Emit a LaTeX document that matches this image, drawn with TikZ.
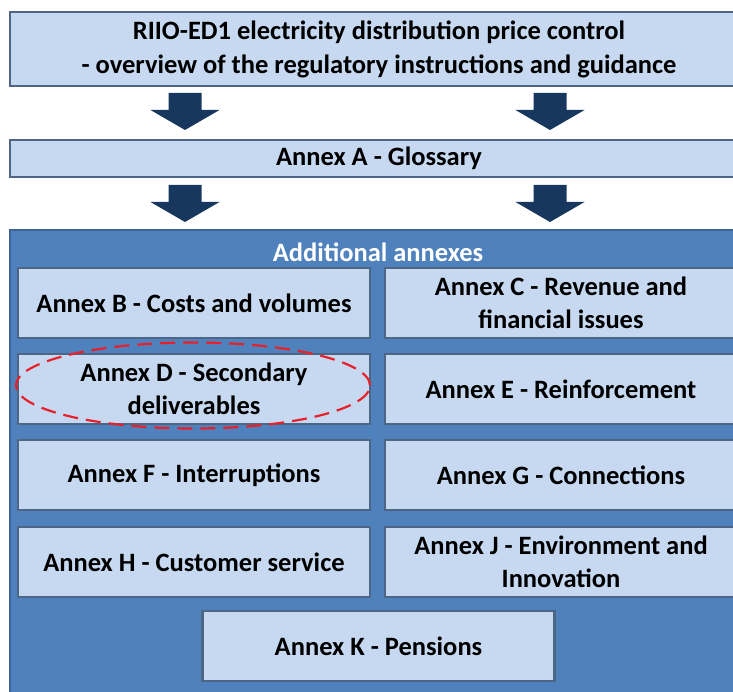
\documentclass[tikz,border=0pt]{standalone}
\usepackage{fontspec}
\setmainfont{Carlito}
\usetikzlibrary{shapes.geometric}
\definecolor{lightfill}{HTML}{C6D9F1}
\definecolor{lightborder}{HTML}{4D6686}
\definecolor{darkfill}{HTML}{4F81BD}
\definecolor{darkborder}{HTML}{3C6496}
\definecolor{arrowcol}{HTML}{17375E}
\definecolor{ringred}{HTML}{E8202A}
\tikzset{
  lightbox/.style={draw=lightborder, fill=lightfill, line width=2.5pt, align=center,
    font=\fontsize{26.5}{33}\selectfont\bfseries, inner sep=0pt},
  sidebox/.style={lightbox, minimum width=352pt, minimum height=70pt},
  blockarrowfill/.style={fill=arrowcol},
  ring/.style={draw=ringred, ellipse, line width=2.2pt, dash pattern=on 15pt off 8pt, minimum width=354pt, minimum height=86pt, inner sep=0pt}
}
\newcommand\blockarrow[2]{%
  \fill[blockarrowfill] ({#1-16.5},{#2}) -- ({#1+16.5},{#2}) -- ({#1+16.5},{#2+17}) -- ({#1+34.5},{#2+17}) -- ({#1},{#2+37}) -- ({#1-34.5},{#2+17}) -- ({#1-16.5},{#2+17}) -- cycle;}
\begin{document}
\begin{tikzpicture}[x=1pt,y=-1pt]
\useasboundingbox (0,0) rectangle (733,692);
\clip (0,0) rectangle (733,692);
\node[lightbox, minimum width=738pt, minimum height=74pt] (top) at (379,49)
  {RIIO-ED1 electricity distribution price control\\[1pt]- overview of the regulatory instructions and guidance};
\blockarrow{185}{93}
\blockarrow{550}{93}
\node[lightbox, minimum width=738pt, minimum height=37pt] (glossary) at (379,158.5) {Annex A - Glossary};
\blockarrow{185}{185}
\blockarrow{550}{185}
\node[draw=darkborder, fill=darkfill, line width=2pt, minimum width=738pt, minimum height=470pt, inner sep=0pt] (annexes) at (379,465) {};
\node[font=\fontsize{26.5}{30}\selectfont\bfseries, text=white] (addtitle) at (378,252) {Additional annexes};
\node[sidebox] (B) at (194,303) {Annex B - Costs and volumes};
\node[sidebox] (C) at (561,303) {Annex C - Revenue and\\financial issues};
\node[sidebox] (D) at (194,389) {Annex D - Secondary\\deliverables};
\node[sidebox] (E) at (561,389) {Annex E - Reinforcement};
\node[sidebox] (F) at (194,475) {Annex F - Interruptions};
\node[sidebox] (G) at (561,475) {Annex G - Connections};
\node[sidebox] (H) at (194,562) {Annex H - Customer service};
\node[sidebox] (J) at (561,562) {Annex J - Environment and\\Innovation};
\node[sidebox] (K) at (378.5,646) {Annex K - Pensions};
\node[ring] (Dring) at (193,385.5) {};
\end{tikzpicture}
\end{document}
